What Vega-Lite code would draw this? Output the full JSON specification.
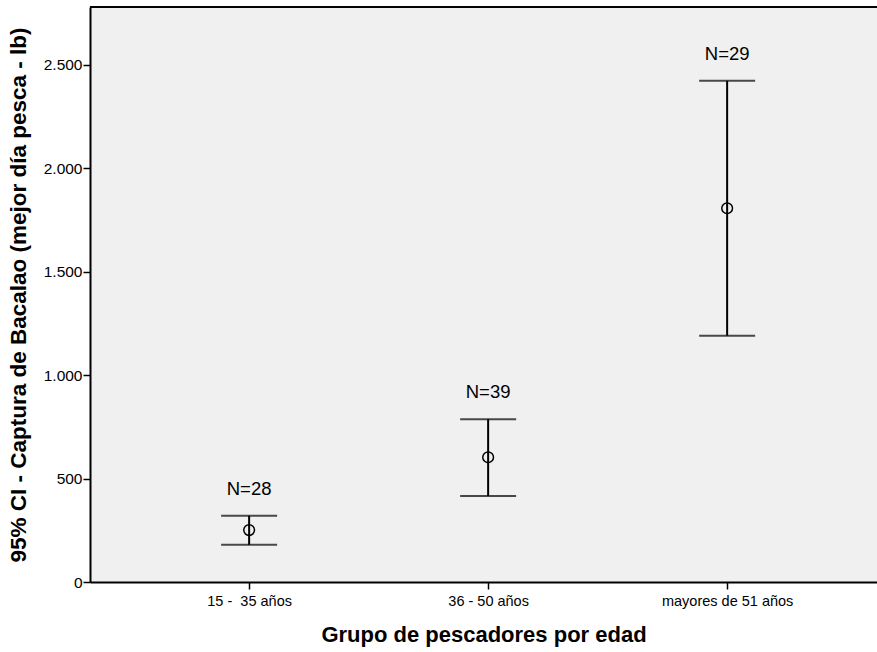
{
  "$schema": "https://vega.github.io/schema/vega-lite/v6.json",
  "autosize": {"type": "none"},
  "padding": {"left": 90, "top": 7, "right": 0, "bottom": 70},
  "width": 787,
  "height": 575,
  "background": "white",
  "config": {
    "view": {"fill": "#f0f0f0", "stroke": null},
    "font": "Liberation Sans",
    "axis": {"domainColor": "black", "tickColor": "black", "labelColor": "black", "titleColor": "black", "grid": false}
  },
  "data": {
    "values": [
      {"grupo": "15 - \u00a035 años", "media": 251, "inferior": 180, "superior": 320, "n": "N=28"},
      {"grupo": "36 - 50 años", "media": 603, "inferior": 416, "superior": 787, "n": "N=39"},
      {"grupo": "mayores de 51 años", "media": 1807, "inferior": 1191, "superior": 2423, "n": "N=29"}
    ]
  },
  "encoding": {
    "x": {
      "field": "grupo", "type": "nominal", "sort": null,
      "scale": {"type": "point", "padding": 0.6464, "align": 0.515},
      "axis": {
        "title": "Grupo de pescadores por edad", "titleFontSize": 22, "titleFontWeight": "bold",
        "titleY": 52, "titleBaseline": "middle",
        "labelAngle": 0, "labelFontSize": 14.5, "labelPadding": 5, "tickSize": 7, "tickWidth": 1.5,
        "domainWidth": 2
      }
    }
  },
  "layer": [
    {
      "mark": {"type": "rule", "color": "black", "strokeWidth": 2},
      "encoding": {
        "y": {
          "field": "inferior", "type": "quantitative",
          "scale": {"domain": [0, 2780], "nice": false, "zero": true},
          "axis": {
            "title": "95% CI - Captura de Bacalao (mejor día pesca - lb)",
            "titleFontSize": 22.5, "titleFontWeight": "bold", "titleX": -72, "titleBaseline": "middle",
            "values": [0, 500, 1000, 1500, 2000, 2500],
            "labelExpr": "replace(format(datum.value, ','), ',', '.')",
            "labelFontSize": 15.5, "labelPadding": 1, "tickSize": 7, "tickWidth": 1.5, "domainWidth": 2
          }
        },
        "y2": {"field": "superior"}
      }
    },
    {
      "mark": {"type": "rule", "color": "black", "strokeWidth": 1.5},
      "encoding": {"x": null, "y": {"datum": 2780, "type": "quantitative"}}
    },
    {
      "mark": {"type": "tick", "color": "black", "thickness": 2, "size": 56},
      "encoding": {"y": {"field": "inferior", "type": "quantitative"}}
    },
    {
      "mark": {"type": "tick", "color": "black", "thickness": 2, "size": 56},
      "encoding": {"y": {"field": "superior", "type": "quantitative"}}
    },
    {
      "mark": {"type": "point", "shape": "circle", "filled": false, "size": 115, "stroke": "black", "strokeWidth": 1.5, "opacity": 1},
      "encoding": {"y": {"field": "media", "type": "quantitative"}}
    },
    {
      "mark": {"type": "text", "fontSize": 18.5, "dy": -27, "color": "black", "baseline": "middle"},
      "encoding": {
        "y": {"field": "superior", "type": "quantitative"},
        "text": {"field": "n"}
      }
    }
  ],
  "resolve": {"scale": {"y": "shared"}}
}
